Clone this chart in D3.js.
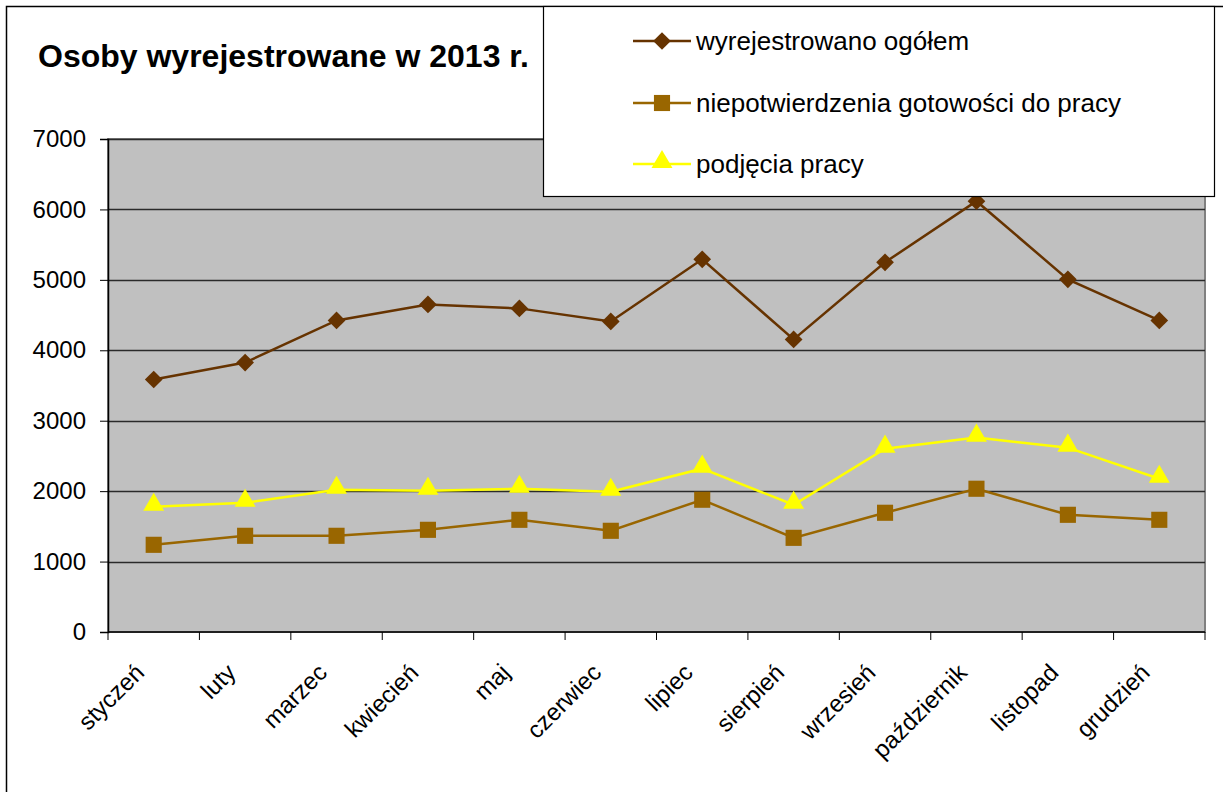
<!DOCTYPE html>
<html>
<head>
<meta charset="utf-8">
<script src="https://cdn.jsdelivr.net/npm/d3@7"></script>
<style>
  body { margin: 0; background: #fff; }
  svg text { font-family: "Liberation Sans", Arial, sans-serif; }
</style>
</head>
<body>
<svg id="chart" width="1223" height="792"></svg>
<script>
// months (x axis)
var months = ["styczeń", "luty", "marzec", "kwiecień", "maj", "czerwiec",
              "lipiec", "sierpień", "wrzesień", "październik", "listopad", "grudzień"];

// series
var wyrejestrowano = [3585, 3826, 4424, 4651, 4595, 4410, 5292, 4154, 5249, 6117, 5007, 4424];
var niepotwierdzenia = [1238, 1366, 1366, 1451, 1593, 1437, 1878, 1337, 1693, 2034, 1664, 1593];
var podjecia = [1778, 1835, 2020, 2006, 2034, 1991, 2319, 1807, 2603, 2760, 2617, 2176];

var yTicks = [0, 1000, 2000, 3000, 4000, 5000, 6000, 7000];

var seriesNames = ["wyrejestrowano ogółem", "niepotwierdzenia gotowości do pracy", "podjęcia pracy"];

var series = [
  { name: seriesNames[0], values: wyrejestrowano, color: "#663300", shape: "diamond" },
  { name: seriesNames[1], values: niepotwierdzenia, color: "#996600", shape: "square" },
  { name: seriesNames[2], values: podjecia, color: "#ffff00", shape: "triangle" }
];

var svg = d3.select("#chart");

var plot = { left: 108, top: 139, right: 1205, bottom: 632 };

// outer frame
svg.append("rect")
  .attr("x", 6.5).attr("y", 6.5)
  .attr("width", 1240).attr("height", 820)
  .attr("fill", "#fff").attr("stroke", "#000").attr("stroke-width", 1.5);

var x = d3.scaleBand().domain(months).range([plot.left, plot.right]);
var y = d3.scaleLinear().domain([0, 7000]).range([plot.bottom, plot.top]);

// plot background
svg.append("rect")
  .attr("x", plot.left).attr("y", plot.top)
  .attr("width", plot.right - plot.left).attr("height", plot.bottom - plot.top)
  .attr("fill", "#c0c0c0").attr("stroke", "#808080").attr("stroke-width", 2);

// gridlines
svg.append("g").selectAll("line")
  .data(yTicks.filter(function(d){ return d > 0; }))
  .enter().append("line")
  .attr("x1", plot.left).attr("x2", plot.right)
  .attr("y1", function(d){ return Math.round(y(d)) + 0.5; })
  .attr("y2", function(d){ return Math.round(y(d)) + 0.5; })
  .attr("stroke", "#2a2a2a").attr("stroke-width", 1.3);

// y axis
var yAxis = svg.append("g")
  .attr("transform", "translate(" + plot.left + ",0)")
  .call(d3.axisLeft(y).tickValues(yTicks).tickSize(8).tickPadding(14).tickFormat(d3.format("d")));
yAxis.select(".domain").attr("stroke", "#000").attr("stroke-width", 1.5);
yAxis.selectAll(".tick line").attr("stroke", "#000");
yAxis.selectAll("text").attr("font-size", 24).attr("fill", "#000")
  .style("font-family", "'Liberation Sans', Arial, sans-serif");

// x axis: ticks at band edges
var xAxisG = svg.append("g");
xAxisG.append("line")
  .attr("x1", plot.left).attr("x2", plot.right)
  .attr("y1", plot.bottom).attr("y2", plot.bottom)
  .attr("stroke", "#000").attr("stroke-width", 1.5);
xAxisG.selectAll(".tk")
  .data(months.concat(["__end"]))
  .enter().append("line")
  .attr("x1", function(d, i){ return i < months.length ? x(d) : plot.right; })
  .attr("x2", function(d, i){ return i < months.length ? x(d) : plot.right; })
  .attr("y1", plot.bottom).attr("y2", plot.bottom + 8)
  .attr("stroke", "#000");

xAxisG.selectAll(".lbl")
  .data(months)
  .enter().append("text")
  .attr("transform", function(d){
    return "translate(" + (x(d) + x.bandwidth() / 2 - 8) + "," + (plot.bottom + 42) + ") rotate(-45)";
  })
  .attr("text-anchor", "end")
  .attr("font-size", 24)
  .text(function(d){ return d; });

// lines + markers
var line = d3.line()
  .x(function(d, i){ return x(months[i]) + x.bandwidth() / 2; })
  .y(function(d){ return y(d); });

function symbolFor(shape) {
  if (shape === "diamond") return d3.symbol().type(d3.symbolDiamond2).size(200);
  if (shape === "square") return d3.symbol().type(d3.symbolSquare).size(260);
  return d3.symbol().type(d3.symbolTriangle).size(190);
}

series.forEach(function(s){
  svg.append("path")
    .datum(s.values)
    .attr("d", line)
    .attr("fill", "none")
    .attr("stroke", s.color)
    .attr("stroke-width", 2.5);

  svg.append("g").selectAll("path")
    .data(s.values)
    .enter().append("path")
    .attr("transform", function(d, i){
      var dy = s.shape === "triangle" ? -2 : 0;
      return "translate(" + (x(months[i]) + x.bandwidth() / 2) + "," + (y(d) + dy) + ")";
    })
    .attr("d", symbolFor(s.shape)())
    .attr("fill", s.color);
});

// title
svg.append("text")
  .attr("x", 38).attr("y", 67)
  .attr("font-size", 32).attr("font-weight", "bold")
  .text("Osoby wyrejestrowane w 2013 r.");

// legend
var legend = svg.append("g");
legend.append("rect")
  .attr("x", 543.5).attr("y", 6.5)
  .attr("width", 671).attr("height", 190)
  .attr("fill", "#fff").attr("stroke", "#000").attr("stroke-width", 1.2);

var legendRows = [41, 103, 164];
series.forEach(function(s, i){
  var ly = legendRows[i];
  legend.append("line")
    .attr("x1", 633).attr("x2", 691)
    .attr("y1", ly).attr("y2", ly)
    .attr("stroke", s.color).attr("stroke-width", 2.5);
  legend.append("path")
    .attr("transform", "translate(662," + (ly + (s.shape === "triangle" ? -2 : 0)) + ")")
    .attr("d", symbolFor(s.shape)())
    .attr("fill", s.color);
  legend.append("text")
    .attr("x", 696).attr("y", ly + 9)
    .attr("font-size", 26)
    .text(s.name);
});
</script>
</body>
</html>
